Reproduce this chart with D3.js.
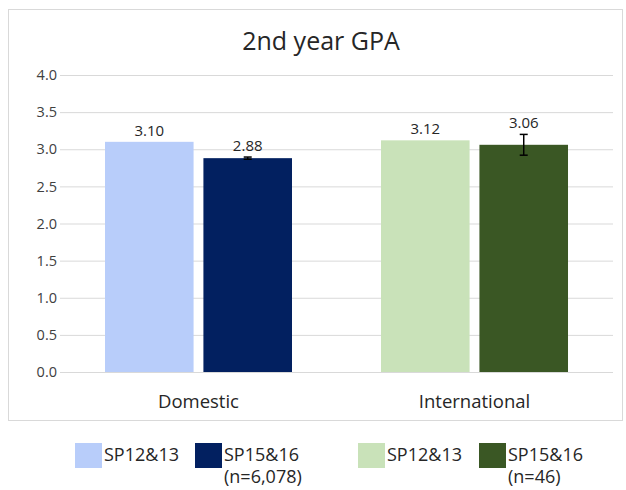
<!DOCTYPE html>
<html>
<head>
<meta charset="utf-8">
<script src="https://cdn.jsdelivr.net/npm/d3@7"></script>
<style>
  body { margin: 0; background: #fff; }
  text { font-family: "Open Sans", Lato, sans-serif; }
</style>
</head>
<body>
<div id="holder"></div>
<script>
const categories = ["Domestic", "International"];
const series = ["SP12&13", "SP15&16"];
const domesticValues = [3.10, 2.88];
const internationalValues = [3.12, 3.06];
const domesticErrors = [0, 0.015];
const internationalErrors = [0, 0.14];
const yTicks = [0, 0.5, 1, 1.5, 2, 2.5, 3, 3.5, 4];
const legendLabels = [["SP12&13"], ["SP15&16", "(n=6,078)"], ["SP12&13"], ["SP15&16", "(n=46)"]];
const colors = {
    Domestic: ["#b8cdfa", "#022060"],
    International: ["#c9e2b9", "#3a5724"]
};

const width = 626;
const height = 490;
const margin = { left: 60, right: 13, top: 75, bottom: 118 };

const dataset = [];
categories.forEach((cat, ci) => {
    const vals = ci === 0 ? domesticValues : internationalValues;
    const errs = ci === 0 ? domesticErrors : internationalErrors;
    series.forEach((s, si) => {
        dataset.push({ category: cat, series: s, value: vals[si], error: errs[si], color: colors[cat][si] });
    });
});

const svg = d3.select("#holder")
    .append("svg")
    .attr("width", width)
    .attr("height", height);

// chart frame
svg.append("rect")
    .attr("x", 8.5)
    .attr("y", 9.5)
    .attr("width", 614)
    .attr("height", 411)
    .attr("fill", "none")
    .attr("stroke", "#d9d9d9");

svg.append("text")
    .attr("x", 321)
    .attr("y", 50)
    .attr("text-anchor", "middle")
    .style("font-size", "25px")
    .attr("fill", "#262626")
    .text("2nd year GPA");

const yScale = d3.scaleLinear()
    .domain([0, 4])
    .range([height - margin.bottom, margin.top]);

const x0 = d3.scaleBand()
    .domain(categories)
    .range([margin.left, width - margin.right])
    .paddingInner(0.3225)
    .paddingOuter(0.163);

const x1 = d3.scaleBand()
    .domain(series)
    .range([0, x0.bandwidth()])
    .paddingInner(0.1);

// gridlines
const yAxis = d3.axisLeft(yScale)
    .tickValues(yTicks)
    .tickFormat(d3.format(".1f"))
    .tickSize(-(width - margin.left - margin.right))
    .tickPadding(8);

const yAxisG = svg.append("g")
    .attr("transform", `translate(${margin.left}, 0)`)
    .call(yAxis);
yAxisG.select(".domain").remove();
yAxisG.selectAll(".tick line").attr("stroke", "#d9d9d9");
yAxisG.selectAll(".tick text")
    .style("font-size", "14.5px")
    .style("font-family", "'Open Sans', sans-serif")
    .attr("fill", "#404040")
    .attr("x", -3);

svg.selectAll("rect.bar")
    .data(dataset)
    .enter()
    .append("rect")
    .attr("class", "bar")
    .attr("x", (d) => x0(d.category) + x1(d.series))
    .attr("y", (d) => yScale(d.value))
    .attr("width", x1.bandwidth())
    .attr("height", (d) => yScale(0) - yScale(d.value))
    .attr("fill", (d) => d.color);

// error bars
const errData = dataset.filter((d) => d.error > 0);
const errG = svg.selectAll("g.err")
    .data(errData)
    .enter()
    .append("g")
    .attr("class", "err")
    .attr("stroke", "#000")
    .attr("stroke-width", 1.5);
errG.append("line")
    .attr("x1", (d) => x0(d.category) + x1(d.series) + x1.bandwidth() / 2)
    .attr("x2", (d) => x0(d.category) + x1(d.series) + x1.bandwidth() / 2)
    .attr("y1", (d) => yScale(d.value + d.error))
    .attr("y2", (d) => yScale(d.value - d.error));
["+", "-"].forEach((sign) => {
    errG.append("line")
        .attr("x1", (d) => x0(d.category) + x1(d.series) + x1.bandwidth() / 2 - 4)
        .attr("x2", (d) => x0(d.category) + x1(d.series) + x1.bandwidth() / 2 + 4)
        .attr("y1", (d) => yScale(sign === "+" ? d.value + d.error : d.value - d.error))
        .attr("y2", (d) => yScale(sign === "+" ? d.value + d.error : d.value - d.error));
});

// data labels
svg.selectAll("text.label")
    .data(dataset)
    .enter()
    .append("text")
    .attr("class", "label")
    .attr("x", (d) => x0(d.category) + x1(d.series) + x1.bandwidth() / 2)
    .attr("y", (d) => yScale(d.value + d.error) - 6)
    .attr("text-anchor", "middle")
    .style("font-size", "15px")
    .attr("fill", "#262626")
    .text((d) => d.value.toFixed(2));

// category axis
svg.selectAll("text.cat")
    .data(categories)
    .enter()
    .append("text")
    .attr("class", "cat")
    .attr("x", (d) => x0(d) + x0.bandwidth() / 2)
    .attr("y", yScale(0) + 36)
    .attr("text-anchor", "middle")
    .style("font-size", "18.5px")
    .attr("fill", "#262626")
    .text((d) => d);

// legend
const legendX = [75, 195, 358, 479];
const legendColors = [colors.Domestic[0], colors.Domestic[1], colors.International[0], colors.International[1]];
const legend = svg.selectAll("g.legend")
    .data(legendLabels)
    .enter()
    .append("g")
    .attr("class", "legend")
    .attr("transform", (d, i) => `translate(${legendX[i]}, 443)`);
legend.append("rect")
    .attr("width", 27)
    .attr("height", 25)
    .attr("fill", (d, i) => legendColors[i]);
legend.each(function (lines) {
    const t = d3.select(this).append("text")
        .attr("x", 29)
        .attr("y", 18)
        .style("font-size", "18px")
        .attr("fill", "#262626");
    lines.forEach((ln, k) => {
        t.append("tspan")
            .attr("x", 29)
            .attr("dy", k === 0 ? 0 : 22)
            .text(ln);
    });
});
</script>
</body>
</html>
